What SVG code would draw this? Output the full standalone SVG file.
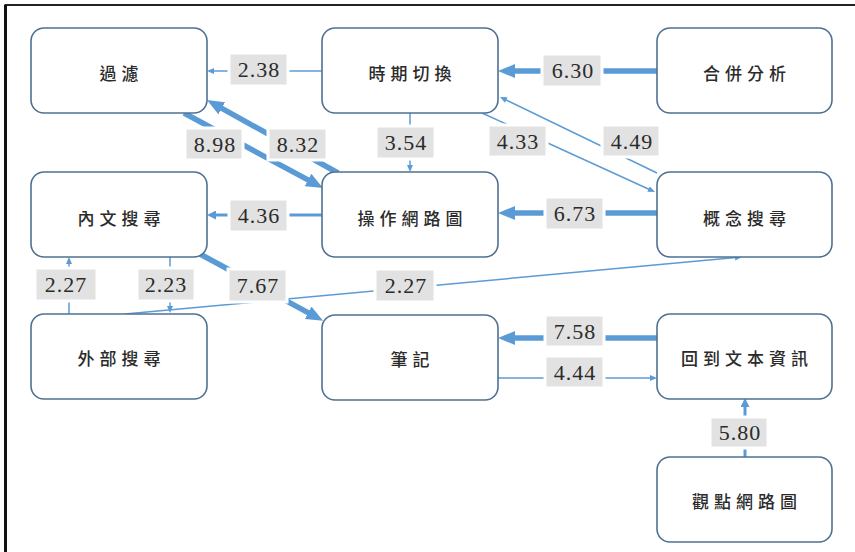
<svg xmlns="http://www.w3.org/2000/svg" width="855" height="552" viewBox="0 0 855 552">
<style>
.node rect{fill:#fff;stroke:#4f7191;stroke-width:1.6}
.node text{fill:#2b2b2b;text-anchor:middle}
.c{fill:none;stroke:#5b9bd5}
.t1{stroke-width:1.5}
.t2{stroke-width:3}
.t3{stroke-width:5.5}
.lb rect{fill:#e2e2e2;stroke:#fff;stroke-width:3}
.lb text{fill:#2b2b2b;text-anchor:middle}
</style>
<defs>
<marker id="a1" viewBox="0 0 7 6" markerWidth="7" markerHeight="6" refX="1" refY="3" markerUnits="userSpaceOnUse" orient="auto"><path d="M0,0 L7,3 L0,6 z" fill="#5b9bd5"/></marker>
<marker id="a2" viewBox="0 0 9 9" markerWidth="9" markerHeight="9" refX="1" refY="4.5" markerUnits="userSpaceOnUse" orient="auto"><path d="M0,0 L9,4.5 L0,9 z" fill="#5b9bd5"/></marker>
<marker id="a3" viewBox="0 0 17 14" markerWidth="17" markerHeight="14" refX="2" refY="7" markerUnits="userSpaceOnUse" orient="auto"><path d="M0,0 L17,7 L0,14 z" fill="#5b9bd5"/></marker>
</defs>
<rect x="0" y="0" width="855" height="552" fill="#fff"/>
<path d="M5.5,552 V5 H855" fill="none" stroke="#222" stroke-width="2"/>
<line x1="5.5" y1="5" x2="5.5" y2="552" stroke="#111" stroke-width="3"/>

<g id="connectors">
<line class="c t1" x1="322" y1="71" x2="213" y2="71" marker-end="url(#a1)"/>
<line class="c t3" x1="657" y1="71" x2="513" y2="71" marker-end="url(#a3)"/>
<line class="c t1" x1="410" y1="113" x2="410" y2="166" marker-end="url(#a1)"/>
<line class="c t1" x1="482" y1="113" x2="649.5" y2="189.5" marker-end="url(#a1)"/>
<line class="c t1" x1="657" y1="173" x2="505.4" y2="99.6" marker-end="url(#a1)"/>
<line class="c t3" x1="184" y1="113" x2="309.8" y2="180.9" marker-end="url(#a3)"/>
<line class="c t3" x1="338" y1="173" x2="220.1" y2="107.3" marker-end="url(#a3)"/>
<line class="c t2" x1="322" y1="215" x2="215" y2="215" marker-end="url(#a2)"/>
<line class="c t3" x1="657" y1="213" x2="513" y2="213" marker-end="url(#a3)"/>
<line class="c t3" x1="200" y1="254" x2="309.9" y2="313.7" marker-end="url(#a3)"/>
<line class="c t1" x1="69" y1="314" x2="69" y2="263" marker-end="url(#a1)"/>
<line class="c t1" x1="170" y1="257" x2="170" y2="307" marker-end="url(#a1)"/>
<line class="c t1" x1="125" y1="314" x2="736" y2="257.5" marker-end="url(#a1)"/>
<line class="c t3" x1="657" y1="338" x2="513" y2="338" marker-end="url(#a3)"/>
<line class="c t1" x1="498" y1="378" x2="651" y2="378" marker-end="url(#a1)"/>
<line class="c t2" x1="745" y1="457" x2="745" y2="406" marker-end="url(#a2)"/>

<g font-family="Liberation Serif, serif" font-size="22" letter-spacing="1">
<g class="lb"><rect x="229" y="53" width="59" height="33"/><text x="259" y="77">2.38</text></g>
<g class="lb"><rect x="542" y="54" width="60" height="33"/><text x="573" y="78">6.30</text></g>
<g class="lb"><rect x="376" y="126" width="59" height="33"/><text x="406" y="150">3.54</text></g>
<g class="lb"><rect x="488" y="125" width="59" height="32"/><text x="518" y="149">4.33</text></g>
<g class="lb"><rect x="602" y="125" width="58" height="32"/><text x="632" y="149">4.49</text></g>
<g class="lb"><rect x="185" y="128" width="58" height="32"/><text x="215" y="152">8.98</text></g>
<g class="lb"><rect x="268" y="128" width="59" height="32"/><text x="298" y="152">8.32</text></g>
<g class="lb"><rect x="229" y="199" width="59" height="33"/><text x="259" y="223">4.36</text></g>
<g class="lb"><rect x="545" y="197" width="59" height="33"/><text x="575" y="221">6.73</text></g>
<g class="lb"><rect x="35" y="268" width="62" height="33"/><text x="66" y="292">2.27</text></g>
<g class="lb"><rect x="137" y="268" width="58" height="33"/><text x="166" y="292">2.23</text></g>
<g class="lb"><rect x="228" y="269" width="59" height="33"/><text x="258" y="293">7.67</text></g>
<g class="lb"><rect x="375" y="269" width="60" height="33"/><text x="406" y="293">2.27</text></g>
<g class="lb"><rect x="545" y="315" width="59" height="32"/><text x="575" y="339">7.58</text></g>
<g class="lb"><rect x="545" y="356" width="59" height="32"/><text x="575" y="380">4.44</text></g>
<g class="lb"><rect x="710" y="417" width="58" height="31"/><text x="740" y="440">5.80</text></g>
</g>
</g>

<g font-family="Noto Sans CJK TC, Noto Sans CJK SC, sans-serif" font-size="17" font-weight="500" letter-spacing="5">
<g id="n-guolv" class="node"><rect x="31" y="28" width="176" height="85" rx="13"/><text x="121.5" y="80">過濾</text></g>
<g id="n-shiqi" class="node"><rect x="322" y="28" width="176" height="85" rx="13"/><text x="412.5" y="80">時期切換</text></g>
<g id="n-hebing" class="node"><rect x="657" y="28" width="175" height="85" rx="13"/><text x="747" y="80">合併分析</text></g>
<g id="n-neiwen" class="node"><rect x="31" y="172" width="176" height="85" rx="13"/><text x="121.5" y="225">內文搜尋</text></g>
<g id="n-caozuo" class="node"><rect x="322" y="172" width="176" height="85" rx="13"/><text x="412.5" y="225">操作網路圖</text></g>
<g id="n-gainian" class="node"><rect x="657" y="172" width="175" height="85" rx="13"/><text x="747" y="225">概念搜尋</text></g>
<g id="n-waibu" class="node"><rect x="31" y="314" width="176" height="85" rx="13"/><text x="121.5" y="365">外部搜尋</text></g>
<g id="n-biji" class="node"><rect x="322" y="315" width="176" height="85" rx="13"/><text x="412.5" y="366">筆記</text></g>
<g id="n-huidao" class="node"><rect x="657" y="314" width="175" height="85" rx="13"/><text x="747" y="365">回到文本資訊</text></g>
<g id="n-guandian" class="node"><rect x="657" y="457" width="175" height="85" rx="13"/><text x="747" y="508">觀點網路圖</text></g>
</g>
</svg>
